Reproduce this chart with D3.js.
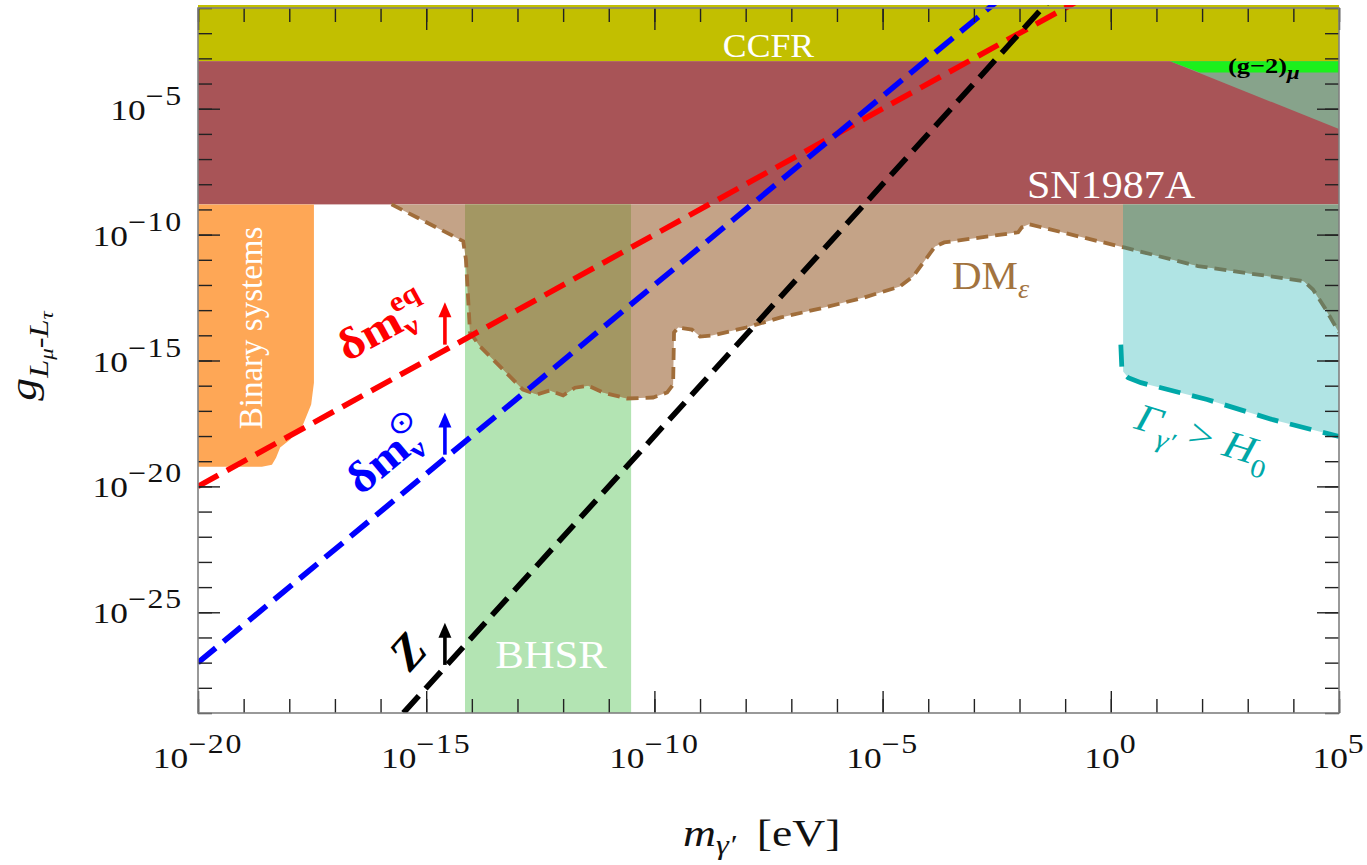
<!DOCTYPE html>
<html><head><meta charset="utf-8">
<script src="https://cdn.jsdelivr.net/npm/d3@7"></script>
<style>
body{margin:0;background:#fff}
svg{display:block}
text{font-family:"Liberation Serif","Times New Roman",serif}
</style>
</head><body>
<svg id="chart" width="1367" height="865"></svg>
<script>
// ---- data: all values are log10 exponents ----
const xDomainExp = [-20, 5];          // m_gamma' [eV]
const yDomainExp = [-29, -1];         // g
const xMajorTickExps = [-20, -15, -10, -5, 0, 5];
const yMajorTickExps = [-25, -20, -15, -10, -5];
const xTickLabels = ["−20", "−15", "−10", "−5", "0", "5"];
const yTickLabels = ["−25", "−20", "−15", "−10", "−5"];

const ccfrBand = [-3.11, -1];          // g range
const sn1987aBand = [-8.80, -3.11];    // g range
const bhsrMassRange = [-14.15, -10.51];// m range
const cyanMassStart = 0.27;            // Gamma > H0 region left edge

const binaryBoundary = [[-20,-8.80],[-17.46,-8.80],[-17.46,-15.88],[-17.52,-16.75],[-17.70,-17.55],
  [-17.98,-18.14],[-18.20,-18.46],[-18.29,-18.86],[-18.38,-19.14],[-18.6,-19.22],[-20,-19.22]];

const dmBoundary = [[-15.76,-8.80],[-14.19,-10.26],[-14.13,-10.98],[-14.08,-12.58],[-14.04,-13.89],
  [-13.82,-14.44],[-13.38,-15.24],[-12.88,-16.16],[-12.57,-16.35],[-12.29,-16.19],[-12.00,-16.39],
  [-11.74,-16.08],[-11.45,-16.00],[-11.13,-16.27],[-10.60,-16.51],[-10.03,-16.47],[-9.72,-16.27],
  [-9.59,-15.96],[-9.57,-13.89],[-9.48,-13.69],[-9.18,-13.77],[-9.00,-14.05],[-8.74,-14.01],
  [-7.99,-13.69],[-7.23,-13.29],[-6.26,-12.89],[-5.41,-12.50],[-4.62,-12.06],[-4.33,-11.66],
  [-3.85,-10.47],[-3.65,-10.31],[-2.03,-9.91],[-1.95,-9.71],[-1.79,-9.59],[0.29,-10.51],
  [1.91,-11.25],[4.23,-11.85],[4.43,-12.18],[4.71,-12.97],[5.0,-13.89]];

const gammaBoundary = [[0.22,-14.37],[0.245,-15.44],[0.38,-15.68],[0.66,-15.88],[2.11,-16.55],
  [3.55,-17.35],[5.0,-18.02]];

const g2Excluded = [[1.30,-3.11],[5,-3.11],[5,-5.81]];
const g2Band = [[1.30,-3.11],[5,-3.11],[5,-3.56],[1.95,-3.56]];

const lineEq  = [[-20,-20],[0,0]];
const lineSun = [[-20,-27],[-2,0]];
const lineZ   = [[-15.5,-29],[-1,0]];

const arrowMass = -14.59;
const arrowEq  = [-14.37, -12.69];
const arrowSun = [-18.74, -17.07];
const arrowZ   = [-27.09, -25.42];

// ---- colours ----
const C = {
  ccfr:"#C2BF00", sn:"#A85457", dm:"#C4A387", dmBH:"#A39763", bh:"#B3E4B3",
  bin:"#FEA756", cyan:"#B0E4E4", dmCyan:"#87A38B", g2gray:"#87A38B", g2:"#1CF01C",
  dmLine:"#A06D3A", dmLineCyan:"#6E7B5E", gamma:"#00A8A8"
};

// ---- layout ----
const L = 198, R = 1339, T = 8, B = 713;
const svg = d3.select("#chart");
const x = d3.scaleLog().domain(xDomainExp.map(e => 10**e)).range([L, R]);
const y = d3.scaleLog().domain(yDomainExp.map(e => 10**e)).range([B, T]);
const px = e => x(10**e), py = e => y(10**e);
const line = d3.line().x(d => px(d[0])).y(d => py(d[1]));

const defs = svg.append("defs");
defs.append("clipPath").attr("id","plotClip").append("rect")
  .attr("x",L).attr("y",T-3).attr("width",R-L).attr("height",B-T+3);
defs.append("clipPath").attr("id","bhClip").append("rect")
  .attr("x",px(bhsrMassRange[0])).attr("y",T).attr("width",px(bhsrMassRange[1])-px(bhsrMassRange[0])).attr("height",B-T);
defs.append("clipPath").attr("id","cyanClip").append("rect")
  .attr("x",px(cyanMassStart)).attr("y",T).attr("width",R-px(cyanMassStart)).attr("height",B-T);
defs.append("clipPath").attr("id","noCyanClip").append("rect")
  .attr("x",L).attr("y",T).attr("width",px(cyanMassStart)-L).attr("height",B-T);

const g = svg.append("g").attr("clip-path","url(#plotClip)");

// bands
g.append("rect").attr("x",L).attr("width",R-L)
  .attr("y",py(ccfrBand[1])-3).attr("height",py(ccfrBand[0])-py(ccfrBand[1])+3).attr("fill",C.ccfr);
g.append("rect").attr("x",L).attr("width",R-L)
  .attr("y",py(sn1987aBand[1])).attr("height",py(sn1987aBand[0])-py(sn1987aBand[1])).attr("fill",C.sn);
g.append("path").attr("d",line(g2Excluded)+"Z").attr("fill",C.g2gray);
g.append("path").attr("d",line(g2Band)+"Z").attr("fill",C.g2);

// binary systems
g.append("path").attr("d",line(binaryBoundary)+"Z").attr("fill",C.bin);

// BHSR
g.append("rect").attr("x",px(bhsrMassRange[0])).attr("width",px(bhsrMassRange[1])-px(bhsrMassRange[0]))
  .attr("y",py(sn1987aBand[0])).attr("height",B-py(sn1987aBand[0])).attr("fill",C.bh);

// Gamma > H0 region
const cyanPoly = [[cyanMassStart,sn1987aBand[0]],[5,sn1987aBand[0]]]
  .concat(gammaBoundary.slice().reverse().map(d=>[Math.max(d[0],cyanMassStart),d[1]]));
g.append("path").attr("d",line(cyanPoly)+"Z").attr("fill",C.cyan);

// DM region
const dmPoly = dmBoundary.concat([[5,sn1987aBand[0]]]);
g.append("path").attr("d",line(dmPoly)+"Z").attr("fill",C.dm);
g.append("path").attr("d",line(dmPoly)+"Z").attr("fill",C.dmBH).attr("clip-path","url(#bhClip)");
g.append("path").attr("d",line(dmPoly)+"Z").attr("fill",C.dmCyan).attr("clip-path","url(#cyanClip)");

// DM dashed boundary
g.append("g").attr("clip-path","url(#noCyanClip)").append("path").attr("d",line(dmBoundary))
  .attr("fill","none").attr("stroke",C.dmLine).attr("stroke-width",3.8).attr("stroke-dasharray","12,7");
g.append("g").attr("clip-path","url(#cyanClip)").append("path").attr("d",line(dmBoundary))
  .attr("fill","none").attr("stroke",C.dmLineCyan).attr("stroke-width",3.8).attr("stroke-dasharray","12,7");

// Gamma dashed
g.append("path").attr("d",line(gammaBoundary)).attr("fill","none")
  .attr("stroke",C.gamma).attr("stroke-width",4.8).attr("stroke-dasharray","22,12");

// model lines
[[lineEq,"#FF0000"],[lineSun,"#0000FF"],[lineZ,"#000000"]].forEach(([d,c])=>{
  g.append("path").attr("d",line(d)).attr("fill","none").attr("stroke",c)
   .attr("stroke-width",5.6).attr("stroke-dasharray","23,10");
});

// arrows
[[arrowEq,"#FF0000"],[arrowSun,"#0000FF"],[arrowZ,"#000000"]].forEach(([a,c])=>{
  const xx = px(arrowMass), y0 = py(a[0]), y1 = py(a[1]);
  g.append("line").attr("x1",xx).attr("x2",xx).attr("y1",y0).attr("y2",y1+10)
   .attr("stroke",c).attr("stroke-width",3.6);
  g.append("path").attr("d",`M${xx},${y1} L${xx-6.5},${y1+15} L${xx+6.5},${y1+15} Z`).attr("fill",c);
});

// ---- region labels ----
const lab = svg.append("g");
lab.append("text").attr("transform",`translate(${(L+R)/2},57) scale(1.05,1)`).attr("text-anchor","middle")
  .attr("font-size",34).attr("fill","#fff").text("CCFR");
lab.append("text").attr("transform","translate(1111,198) scale(1.05,1)").attr("text-anchor","middle")
  .attr("font-size",40).attr("fill","#fff").text("SN1987A");
lab.append("text").attr("transform","translate(551,668) scale(1.07,1)").attr("text-anchor","middle")
  .attr("font-size",40).attr("fill","#fff").text("BHSR");
lab.append("text").attr("transform","translate(262,328) rotate(-90)").attr("text-anchor","middle")
  .attr("font-size",33).attr("fill","#fff").text("Binary systems");
const dmT = lab.append("text").attr("transform","translate(952,289) scale(1.05,1)").attr("fill","#A2733F").attr("font-size",39);
dmT.append("tspan").text("DM");
dmT.append("tspan").attr("font-size",27).attr("font-style","italic").attr("dy",9).text("ε");
const g2T = lab.append("text").attr("transform","translate(1228,73) scale(1.2,1)").attr("fill","#000").attr("font-size",22).attr("font-weight","bold");
g2T.append("tspan").text("(g−2)");
g2T.append("tspan").attr("font-size",19).attr("font-style","italic").attr("dy",6).text("μ");

const gamT = lab.append("text").attr("transform","translate(1133,428) rotate(17) scale(1.15,1)").attr("fill",C.gamma).attr("font-size",39);
gamT.append("tspan").attr("font-style","italic").text("Γ");
gamT.append("tspan").attr("font-style","italic").attr("font-size",26).attr("dy",11).text("γ′");
gamT.append("tspan").attr("dy",-11).text(" > ");
gamT.append("tspan").attr("font-style","italic").text("H");
gamT.append("tspan").attr("font-size",26).attr("dy",11).text("0");

const eqT = lab.append("text").attr("transform","translate(347,362) rotate(-28.8) scale(1.12,1)").attr("fill","#FF0000")
  .attr("font-size",44).attr("font-weight","bold");
eqT.append("tspan").text("δm");
eqT.append("tspan").attr("font-size",28).attr("dy",9).text("ν");
eqT.append("tspan").attr("font-size",28).attr("dx",-14).attr("dy",-29).text("eq");

const sunT = lab.append("text").attr("transform","translate(361,496) rotate(-39.6) scale(1.12,1)").attr("fill","#0000FF")
  .attr("font-size",44).attr("font-weight","bold");
sunT.append("tspan").text("δm");
sunT.append("tspan").attr("font-size",28).attr("dy",9).text("ν");
sunT.append("tspan").attr("font-size",30).attr("font-weight","normal").attr("font-family","DejaVu Sans").attr("dx",-15).attr("dy",-30).text("⊙");

lab.append("text").attr("transform","translate(410,673) rotate(-48)").attr("fill","#000")
  .attr("font-size",48).attr("font-weight","bold").attr("font-style","italic").text("Z");

// ---- axes ----
const allX = d3.range(xDomainExp[0], xDomainExp[1]+1).map(e=>10**e);
const allY = d3.range(yDomainExp[0], yDomainExp[1]+1).map(e=>10**e);
const majX = xMajorTickExps.map(e=>10**e), majY = yMajorTickExps.map(e=>10**e);
function ax(gen, vals, size, tr){
  const a = svg.append("g").attr("transform",tr)
    .call(gen.tickValues(vals).tickSize(-size).tickFormat(""));
  a.select(".domain").remove();
  a.selectAll("line").attr("stroke","#222").attr("stroke-width",1.4);
}
ax(d3.axisBottom(x), allX, 14, `translate(0,${B})`);
ax(d3.axisBottom(x), majX, 22, `translate(0,${B})`);
ax(d3.axisTop(x), allX, 14, `translate(0,${T})`);
ax(d3.axisTop(x), majX, 22, `translate(0,${T})`);
ax(d3.axisLeft(y), allY, 14, `translate(${L},0)`);
ax(d3.axisLeft(y), majY, 22, `translate(${L},0)`);
ax(d3.axisRight(y), allY, 14, `translate(${R},0)`);
ax(d3.axisRight(y), majY, 22, `translate(${R},0)`);
svg.append("rect").attr("x",L).attr("y",T).attr("width",R-L).attr("height",B-T)
  .attr("fill","none").attr("stroke","#808080").attr("stroke-width",1.6);

// tick labels
function tickLabel(tx, ty, anchor, sup){
  const t = svg.append("text").attr("transform",`translate(${tx},${ty}) scale(1.18,1)`)
    .attr("text-anchor",anchor).attr("font-size",30).attr("fill","#111");
  t.append("tspan").text("10");
  t.append("tspan").attr("font-size",27).attr("letter-spacing",1.5).attr("dy",-15).text(sup);
}
xMajorTickExps.forEach((e,i)=> tickLabel(px(e), 768, "middle", xTickLabels[i]));
yMajorTickExps.forEach((e,i)=> tickLabel(183, py(e)+11, "end", yTickLabels[i]));

// axis titles
const xt = svg.append("text").attr("transform","translate(683,846) scale(1.2,1)").attr("font-size",38).attr("fill","#111");
xt.append("tspan").attr("font-style","italic").text("m");
xt.append("tspan").attr("font-style","italic").attr("font-size",27).attr("dy",8).text("γ′");
xt.append("tspan").attr("dy",-8).attr("dx",8).text(" [eV]");

const yt = svg.append("text").attr("transform","translate(36,356) rotate(-90) scale(1.2,1)").attr("text-anchor","middle")
  .attr("font-size",38).attr("fill","#111").attr("font-style","italic");
yt.append("tspan").text("g");
yt.append("tspan").attr("font-size",27).attr("dy",12).text("L");
yt.append("tspan").attr("font-size",19).attr("dy",5).text("μ");
yt.append("tspan").attr("font-size",27).attr("dy",-5).attr("font-style","normal").text("-");
yt.append("tspan").attr("font-size",27).text("L");
yt.append("tspan").attr("font-size",19).attr("dy",5).text("τ");
</script>
</body></html>
